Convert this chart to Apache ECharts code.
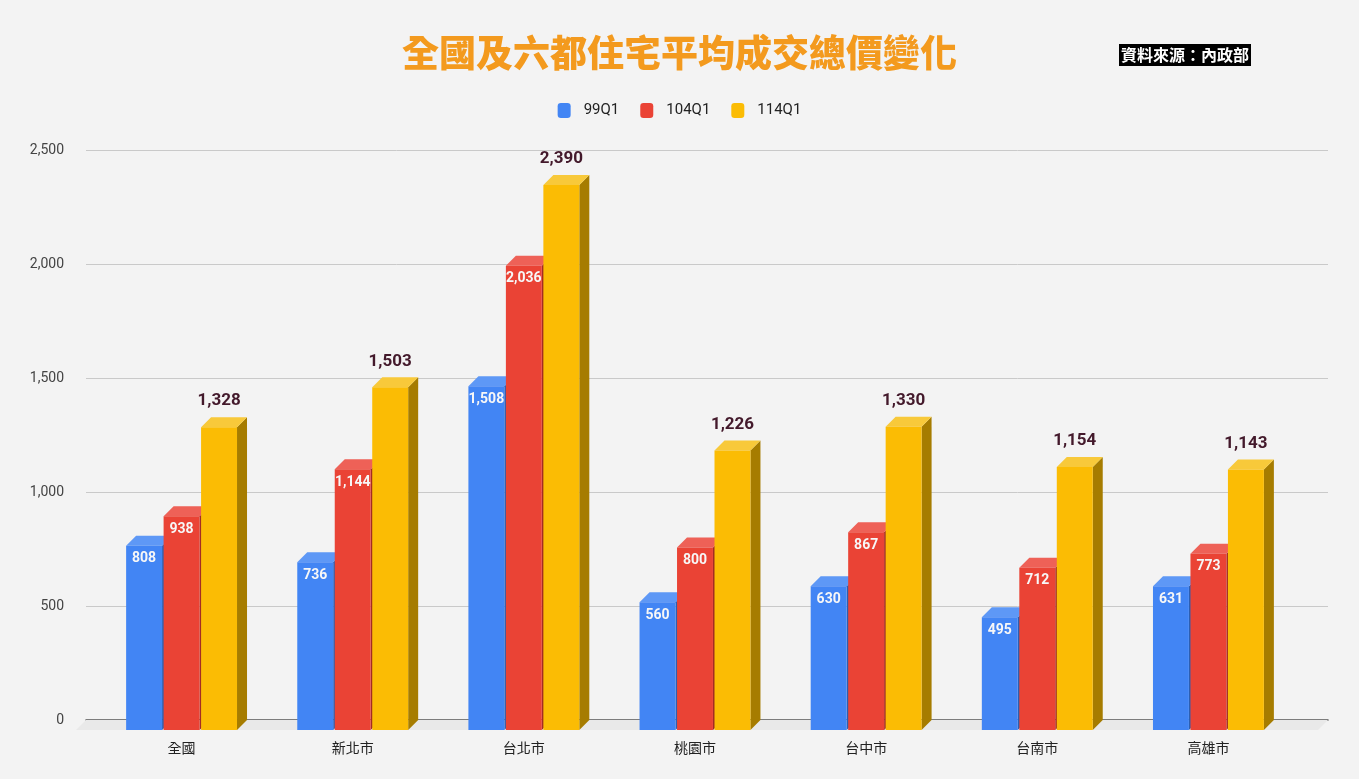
<!DOCTYPE html>
<html>
<head>
<meta charset="utf-8">
<script src="https://cdn.jsdelivr.net/npm/echarts@6/dist/echarts.min.js"></script>
<style>
  html, body { margin: 0; padding: 0; background: #f3f3f3; }
  #chart { width: 1359px; height: 779px; }
</style>
</head>
<body>
<div id="chart"></div>
<script>
const cities = ["全國", "新北市", "台北市", "桃園市", "台中市", "台南市", "高雄市"];
const q99 = [808, 736, 1508, 560, 630, 495, 631];
const q104 = [938, 1144, 2036, 800, 867, 712, 773];
const q114 = [1328, 1503, 2390, 1226, 1330, 1154, 1143];
const seriesNames = ["99Q1", "104Q1", "114Q1"];
const yTicks = { min: 0, max: 2500, interval: 500 };

const faces = [
  { front: "#4285f4", top: "#5e98f6", side: "#2c5fb3" },
  { front: "#ea4335", top: "#ee6157", side: "#a32c23" },
  { front: "#fbbc04", top: "#f8c93a", side: "#a67c00" }
];
const DEPTH = 10;

let chart = echarts.init(document.getElementById("chart"), null, { renderer: "canvas" });

const fmt = (v) => v.toLocaleString("en-US");

function barRenderer(s) {
  return function (params, api) {
    const idx = api.value(0);
    const v = api.value(1);
    const top = api.coord([idx, v]);
    const base = api.coord([idx, 0]);
    const band = api.size([1, 0])[0];
    const w = band * 0.21;
    const step = band * 0.219;
    const x = top[0] + (s - 1) * step - w / 2;
    const yb = top[1];
    const y0 = base[1];
    const c = faces[s];
    const kids = [
      { type: "polygon", shape: { points: [[x + w, yb + DEPTH], [x + w + DEPTH, yb], [x + w + DEPTH, y0], [x + w, y0 + DEPTH]] }, style: { fill: c.side } },
      { type: "polygon", shape: { points: [[x, yb + DEPTH], [x + DEPTH, yb], [x + w + DEPTH, yb], [x + w, yb + DEPTH]] }, style: { fill: c.top } },
      { type: "rect", shape: { x: x, y: yb + DEPTH, width: w, height: y0 - yb }, style: { fill: c.front } }
    ];
    if (s < 2) {
      kids.push({ type: "text", x: x + w / 2, y: yb + DEPTH + 13,
        style: { text: fmt(v), fill: "#f7f7f7", font: "bold 14px Roboto, sans-serif", align: "center", verticalAlign: "middle" } });
    } else {
      kids.push({ type: "text", x: x + w / 2, y: yb - 16,
        style: { text: fmt(v), fill: "#43192b", font: "bold 17px Roboto, sans-serif", align: "center", verticalAlign: "middle" } });
    }
    return { type: "group", children: kids };
  };
}

const barSeries = [q99, q104, q114].map((vals, s) => ({
  type: "custom",
  name: seriesNames[s],
  xAxisIndex: 0,
  yAxisIndex: 0,
  z: 3,
  itemStyle: { color: faces[s].front },
  renderItem: barRenderer(s),
  encode: { x: 0, y: 1 },
  data: vals.map((v, i) => [i, v])
}));

const floorSeries = {
  type: "custom",
  xAxisIndex: 1,
  yAxisIndex: 1,
  z: 1,
  silent: true,
  data: [[0, 0]],
  renderItem: (params, api) => {
    const r = params.coordSys;
    const y0 = r.y + r.height;
    return {
      type: "polygon",
      shape: { points: [[r.x, y0], [r.x + r.width, y0], [r.x + r.width - DEPTH, y0 + DEPTH], [r.x - DEPTH, y0 + DEPTH]] },
      style: { fill: "#e9e9e9" }
    };
  }
};

chart.setOption({
  backgroundColor: "#f3f3f3",
  animation: false,
  title: {
    text: "全國及六都住宅平均成交總價變化",
    left: "center",
    top: 29,
    textStyle: { color: "#f39a1e", fontSize: 37, fontWeight: 900, fontFamily: "Noto Sans CJK TC" }
  },
  graphic: [{
    type: "text",
    left: 1119,
    top: 44,
    style: {
      text: "資料來源：內政部",
      fill: "#fff",
      backgroundColor: "#000",
      padding: [3, 2, 3, 2],
      font: "bold 16px 'Noto Sans CJK TC'"
    }
  }],
  legend: {
    data: seriesNames,
    top: 98,
    left: "center",
    icon: "roundRect",
    itemWidth: 13,
    itemHeight: 15,
    itemGap: 21,
    textStyle: { color: "#222", fontSize: 15, fontFamily: "Roboto", padding: [0, 0, 0, 8] }
  },
  grid: [
    { left: 96, right: 65, top: 150, bottom: 59 },
    { left: 86, right: 31, top: 150, bottom: 59 }
  ],
  xAxis: [
    {
      type: "category", gridIndex: 0, data: cities,
      axisLine: { show: false }, axisTick: { show: false },
      axisLabel: { color: "#222", fontSize: 14, margin: 21, fontFamily: "Noto Sans CJK TC" }
    },
    {
      type: "category", gridIndex: 1, data: cities,
      axisLine: { show: true, lineStyle: { color: "#555", width: 1.5 } },
      axisTick: { show: false }, axisLabel: { show: false }
    }
  ],
  yAxis: [
    { type: "value", gridIndex: 0, show: false, ...yTicks },
    {
      type: "value", gridIndex: 1, ...yTicks,
      axisLine: { show: false }, axisTick: { show: false },
      axisLabel: { color: "#444", fontSize: 14, margin: 22, fontFamily: "Roboto", formatter: (v) => fmt(v) },
      splitLine: { lineStyle: { color: "#c9c9c9" } }
    }
  ],
  series: [floorSeries].concat(barSeries)
});
</script>
</body>
</html>
